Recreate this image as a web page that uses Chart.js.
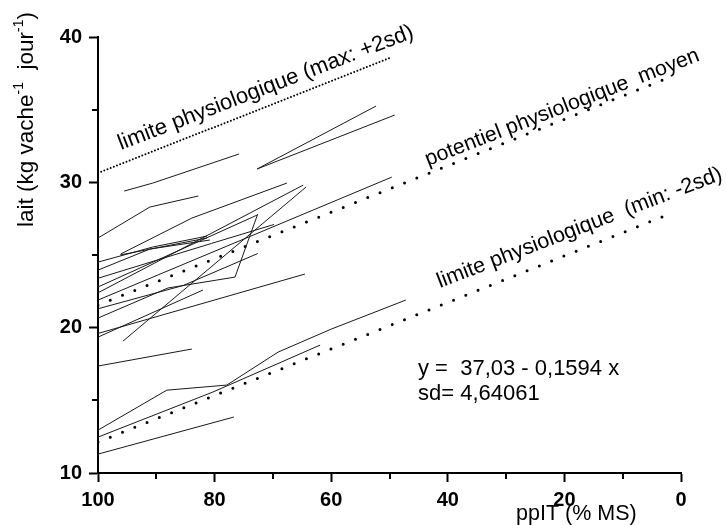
<!DOCTYPE html>
<html lang="fr">
<head>
  <meta charset="UTF-8">
  <title>Lait vs ppIT</title>
  <script src="https://cdn.jsdelivr.net/npm/chart.js"></script>
  <style>
    body { margin: 0; background: #fff; }
    .cadre { position: relative; width: 726px; height: 525px; }
  </style>
</head>
<body>
  <div class="cadre"><canvas id="graphe"></canvas></div>

  <script>
    // axes
    const ticksX = [100, 80, 60, 40, 20, 0];
    const ticksY = [10, 20, 30, 40];

    // limites physiologiques (points [ppIT, lait])
    const limiteMax = [[100, 30.64], [50, 38.55]];
    const potentielMoyen = [[100, 21.55], [1.5, 37.3]];
    const limiteMin = [[100, 12.13], [1.5, 27.9]];

    // trajectoires individuelles
    const traitsHaut = [
      [[95.5, 29.4], [90.6, 29.95], [75.8, 31.95]],
      [[100, 26.17], [91.1, 28.3], [82.8, 29.06]],
      [[96.1, 25.07], [83.9, 27.54], [67.6, 29.95]],
      [[72.7, 30.92], [52.3, 35.25]],
      [[72.7, 30.92], [49.1, 34.63]]
    ];
    const traitsMilieu = [
      [[100, 21.9], [49.6, 30.36]],
      [[100, 19.6], [64.5, 23.69]],
      [[100, 19.35], [82, 22.59]],
      [[95.7, 19.08], [64.3, 29.68]],
      [[100, 22.4], [64.8, 29.81]],
      [[100, 24.51], [90.6, 25.55], [81.3, 26.3]],
      [[100, 23.96], [91.1, 25.41], [80.8, 26.03]],
      [[96.2, 25.0], [81.3, 26.17]],
      [[100, 22.8], [72.7, 27.75]],
      [[100, 20.66], [88, 22.73], [76.5, 23.48], [72.6, 27.82]],
      [[100, 23.4], [80.5, 25.8], [69.8, 27.1]],
      [[100, 21.3], [85.4, 22.9], [72.6, 25.1]]
    ];
    const traitsBas = [
      [[100, 17.36], [83.9, 18.53]],
      [[100, 12.95], [88.2, 15.7], [77.9, 16.05], [69.1, 18.32], [60, 19.9], [47.2, 21.9]],
      [[100, 12.47], [80.3, 15.57], [61.9, 18.8]],
      [[100, 11.3], [76.7, 13.85]]
    ];

    const police = '"Liberation Sans", Arial, sans-serif';

    function versPoints(l) { return l.map(p => ({ x: p[0], y: p[1] })); }

    const jeux = [];
    [...traitsHaut, ...traitsMilieu, ...traitsBas].forEach(l => {
      jeux.push({ data: versPoints(l), borderColor: '#1a1a1a', borderWidth: 1, pointRadius: 0 });
    });
    jeux.push({ data: versPoints(limiteMax), borderColor: '#000', borderWidth: 2,
      borderDash: [0, 3.4], borderCapStyle: 'round', pointRadius: 0 });
    jeux.push({ data: versPoints(potentielMoyen), borderColor: '#000', borderWidth: 3,
      borderDash: [0, 13.2], borderCapStyle: 'round', pointRadius: 0 });
    jeux.push({ data: versPoints(limiteMin), borderColor: '#000', borderWidth: 3,
      borderDash: [0, 13.2], borderCapStyle: 'round', pointRadius: 0 });

    // petites graduations + textes
    const habillage = {
      id: 'habillage',
      afterDraw(chart) {
        const ctx = chart.ctx;
        const sx = chart.scales.x, sy = chart.scales.y;
        const a = chart.chartArea;
        ctx.save();
        ctx.strokeStyle = '#000';
        ctx.lineWidth = 2;
        for (let v = 10; v < 100; v += 20) {
          const px = Math.round(sx.getPixelForValue(v));
          ctx.beginPath(); ctx.moveTo(px, a.bottom); ctx.lineTo(px, a.bottom + 6); ctx.stroke();
        }
        for (let v = 15; v < 40; v += 10) {
          const py = Math.round(sy.getPixelForValue(v));
          ctx.beginPath(); ctx.moveTo(a.left, py); ctx.lineTo(a.left - 6, py); ctx.stroke();
        }

        ctx.fillStyle = '#000';
        ctx.textBaseline = 'alphabetic';
        ctx.font = '22px ' + police;
        ctx.fillText('y =  37,03 - 0,1594 x', 418, 375);
        ctx.fillText('sd= 4,64061', 418, 400);
        ctx.font = '21.5px ' + police;
        ctx.fillText('ppIT (% MS)', 516, 520);

        const incline = (txt, x, y, ang, taille) => {
          ctx.save();
          ctx.font = taille + 'px ' + police;
          ctx.translate(x, y);
          ctx.rotate(ang * Math.PI / 180);
          ctx.fillText(txt, 0, 0);
          ctx.restore();
        };
        incline('limite physiologique (max: +2sd)', 121, 150, -21, 22);
        incline('potentiel physiologique  moyen', 428, 166, -21.2, 21.3);
        incline('limite physiologique  (min: -2sd)', 440, 288, -21, 21.6);

        // titre de l'axe y avec exposants
        ctx.save();
        ctx.translate(33, 227);
        ctx.rotate(-Math.PI / 2);
        let x = 0;
        const morceaux = [['lait (kg vache', false], ['-1', true], ['  jour', false], ['-1', true], [')', false]];
        morceaux.forEach(([t, sup]) => {
          ctx.font = (sup ? '14px ' : '22.5px ') + police;
          ctx.fillText(t, x, sup ? -10 : 0);
          x += ctx.measureText(t).width;
        });
        ctx.restore();
        ctx.restore();
      }
    };

    new Chart(document.getElementById('graphe'), {
      type: 'line',
      data: { datasets: jeux },
      options: {
        responsive: true,
        maintainAspectRatio: false,
        animation: false,
        layout: { padding: { top: 37, right: 45, left: 0, bottom: 0 } },
        plugins: { legend: { display: false }, tooltip: { enabled: false } },
        scales: {
          x: {
            type: 'linear',
            reverse: true,
            min: 0, max: 100,
            afterBuildTicks: s => { s.ticks = ticksX.map(v => ({ value: v })); },
            afterFit: s => { s.height = 52; },
            ticks: { color: '#000', padding: 6, maxRotation: 0,
              font: { family: police, size: 20, weight: 'bold' } },
            grid: { drawOnChartArea: false, tickLength: 9, tickWidth: 2, tickColor: '#000' },
            border: { color: '#000', width: 2 }
          },
          y: {
            type: 'linear',
            min: 10, max: 40,
            afterBuildTicks: s => { s.ticks = ticksY.map(v => ({ value: v })); },
            afterFit: s => { s.width = 98; },
            ticks: { color: '#000', padding: 7,
              font: { family: police, size: 20, weight: 'bold' } },
            grid: { drawOnChartArea: false, tickLength: 9, tickWidth: 2, tickColor: '#000' },
            border: { color: '#000', width: 2 }
          }
        }
      },
      plugins: [habillage]
    });
  </script>
</body>
</html>
